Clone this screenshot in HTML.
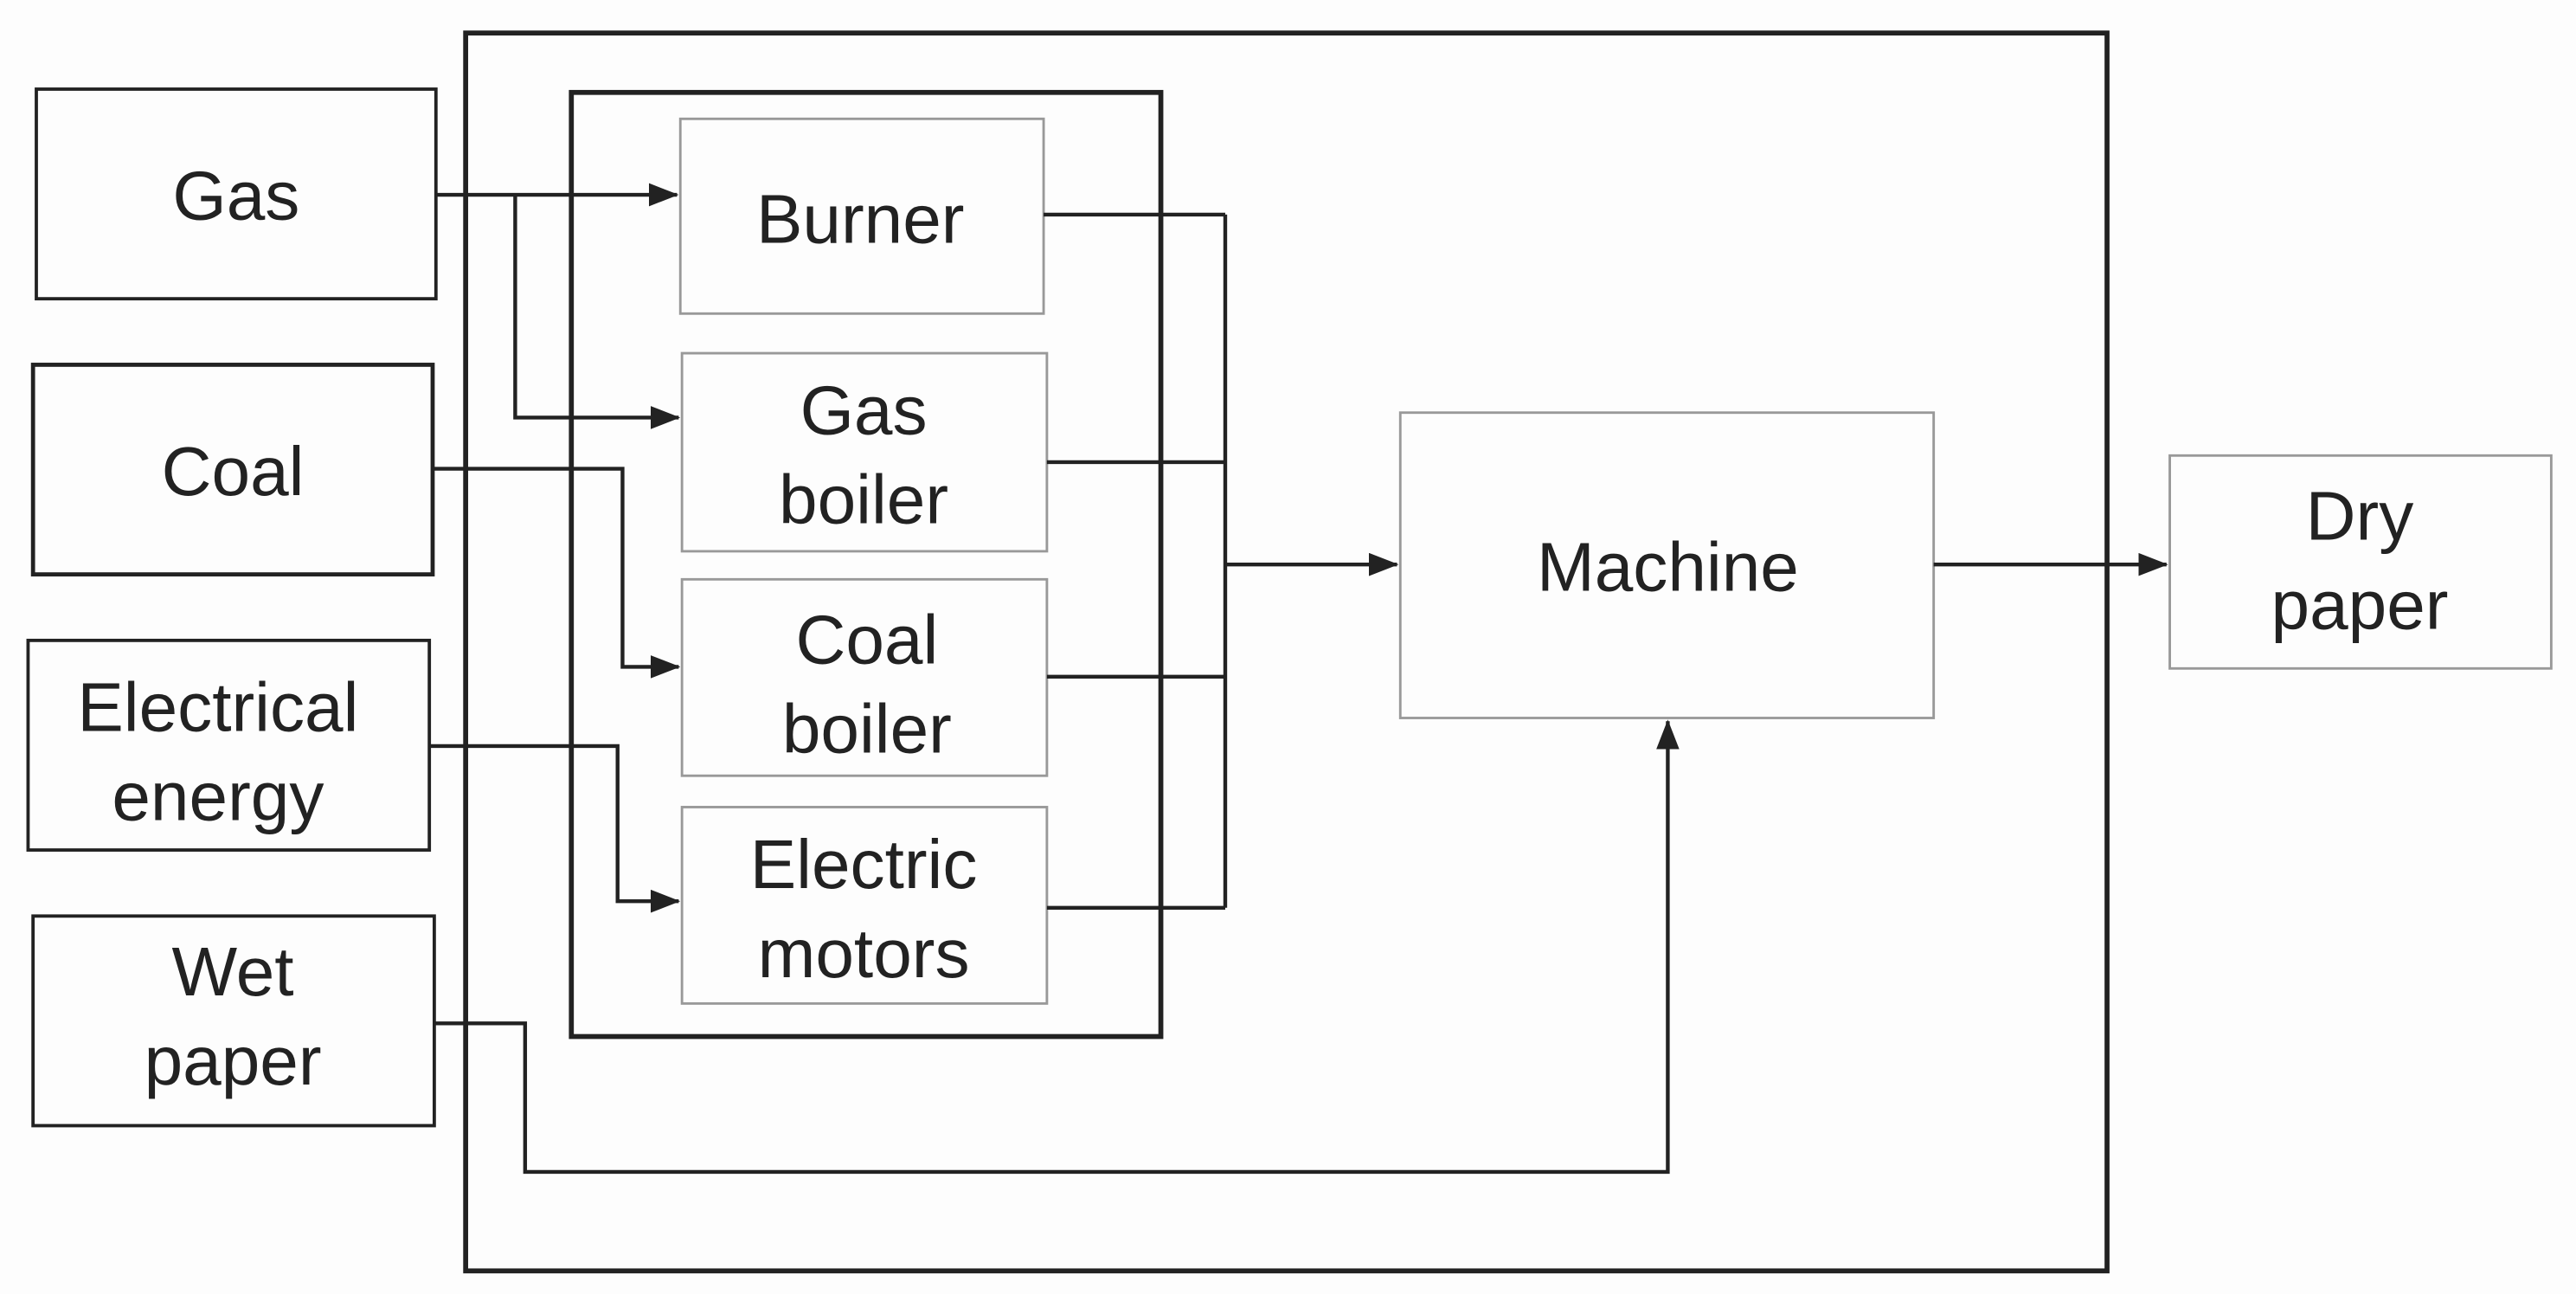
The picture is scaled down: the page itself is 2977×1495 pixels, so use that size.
<!DOCTYPE html>
<html><head><style>html,body{margin:0;padding:0;background:#fdfdfd}svg{display:block}text{font-family:"Liberation Sans",Arial,sans-serif}</style></head>
<body>
<svg width="2977" height="1495" viewBox="0 0 1560 784" preserveAspectRatio="none" xmlns="http://www.w3.org/2000/svg">
<defs><marker id="a" markerWidth="18" markerHeight="14" refX="17" refY="7" orient="auto" markerUnits="userSpaceOnUse"><path d="M0,0 L18,7 L0,14 Z" fill="#222"/></marker></defs>
<rect width="1560" height="784" fill="#fdfdfd"/>
<g fill="none" stroke="#222">
<rect x="282" y="20" width="994" height="750" stroke-width="3"/>
<rect x="346" y="56" width="357" height="572" stroke-width="3"/>
<rect x="22" y="54" width="242" height="127" stroke-width="2"/>
<rect x="20" y="221" width="242" height="127" stroke-width="2.5"/>
<rect x="17" y="388" width="243" height="127" stroke-width="2"/>
<rect x="20" y="555" width="243" height="127" stroke-width="2"/>
<g stroke="#999" stroke-width="1.5">
<rect x="412" y="72" width="220" height="118"/>
<rect x="413" y="214" width="221" height="120"/>
<rect x="413" y="351" width="221" height="119"/>
<rect x="413" y="489" width="221" height="119"/>
<rect x="848" y="250" width="323" height="185"/>
<rect x="1314" y="276" width="231" height="129"/>
</g>
<g stroke-width="2.3">
<path d="M264,118 H410" marker-end="url(#a)"/>
<path d="M312,118 V253 H411" marker-end="url(#a)"/>
<path d="M262,284 H377 V404 H411" marker-end="url(#a)"/>
<path d="M260,452 H374 V546 H411" marker-end="url(#a)"/>
<path d="M263,620 H318 V710 H1010 V437" marker-end="url(#a)"/>
<path d="M632,130 H742 M634,280 H742 M634,410 H742 M634,550 H742 M742,130 V550"/>
<path d="M742,342 H846" marker-end="url(#a)"/>
<path d="M1171,342 H1312" marker-end="url(#a)"/>
</g>
</g>
<g font-size="42" fill="#222" text-anchor="middle">
<text x="143" y="133">Gas</text>
<text x="141" y="300">Coal</text>
<text x="132" y="443">Electrical</text>
<text x="132" y="497">energy</text>
<text x="141" y="603">Wet</text>
<text x="141" y="657">paper</text>
<text x="521" y="147">Burner</text>
<text x="523" y="263">Gas</text>
<text x="523" y="317">boiler</text>
<text x="525" y="402">Coal</text>
<text x="525" y="456">boiler</text>
<text x="523" y="538">Electric</text>
<text x="523" y="592">motors</text>
<text x="1010" y="358">Machine</text>
<text x="1429" y="327">Dry</text>
<text x="1429" y="381">paper</text>
</g>
</svg>
</body></html>
